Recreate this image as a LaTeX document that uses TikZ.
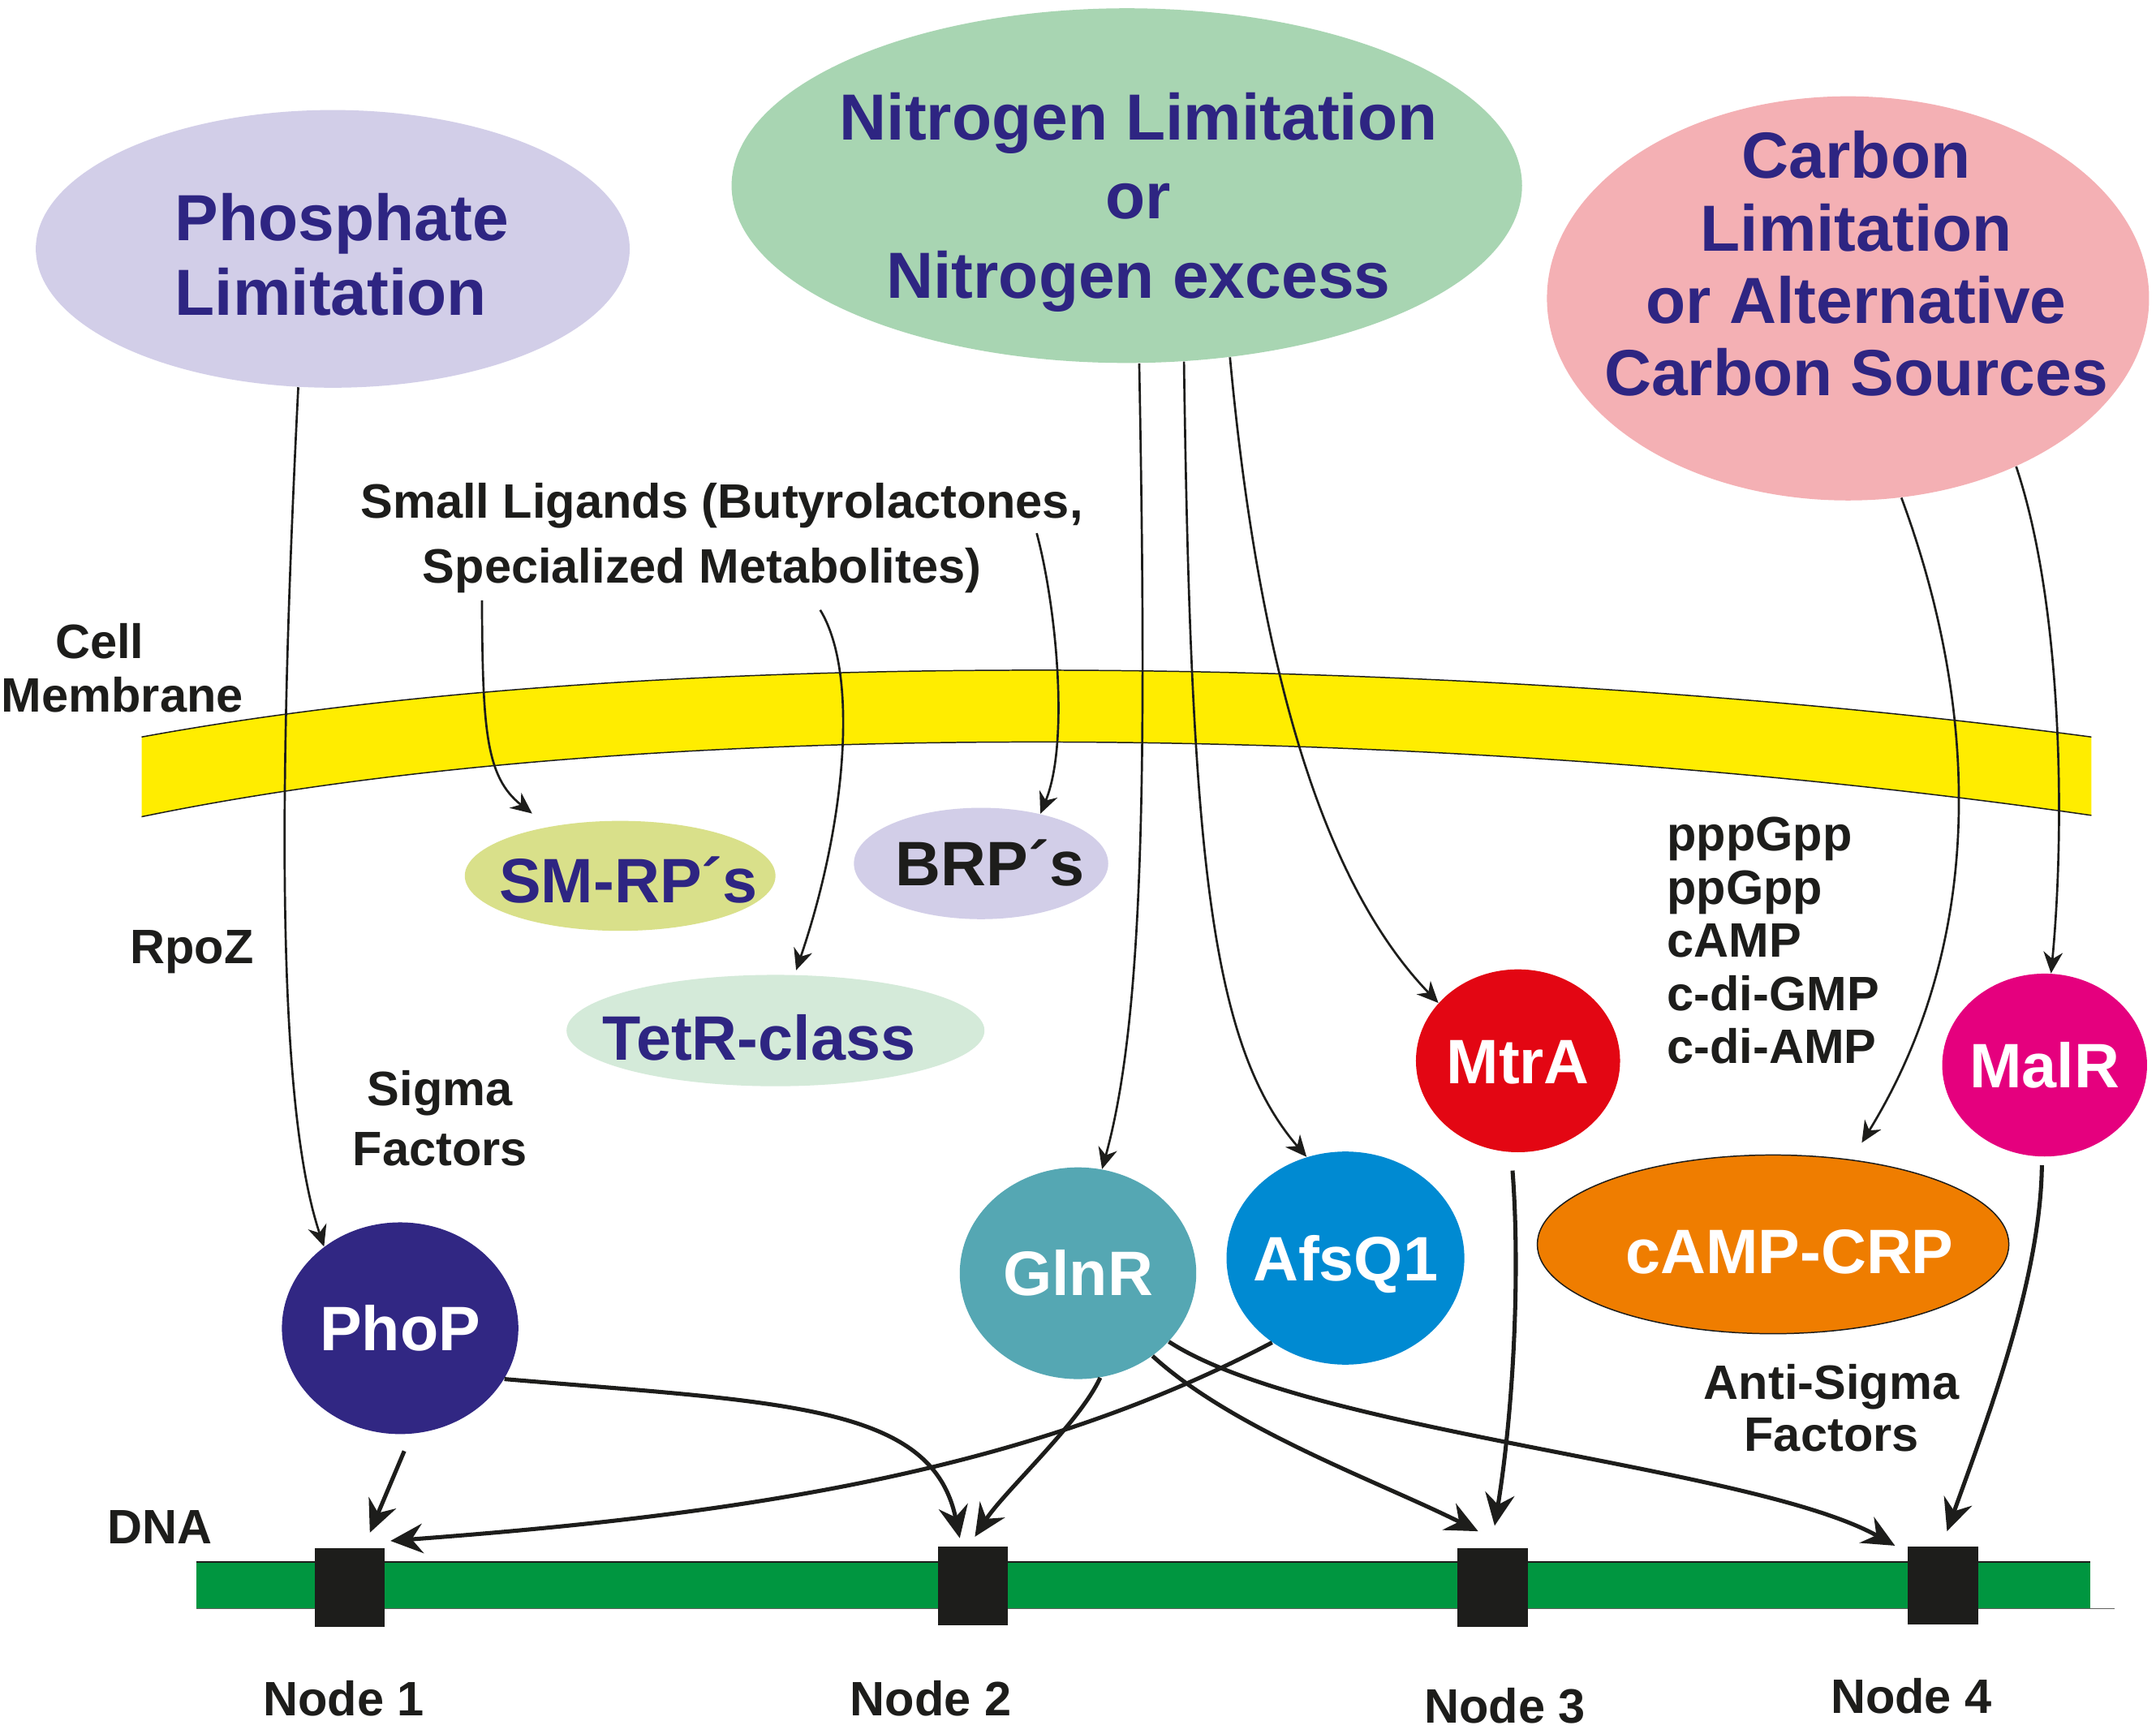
\documentclass[tikz,border=0pt]{standalone}
\usepackage{fontspec}
\setmainfont{Liberation Sans}
\usetikzlibrary{shapes.geometric, arrows.meta, calc}

\definecolor{condblue}{RGB}{46,37,130}
\definecolor{phoscol}{RGB}{210,206,232}
\definecolor{nitrocol}{RGB}{168,213,178}
\definecolor{carbcol}{RGB}{244,176,180}
\definecolor{smrpcol}{RGB}{217,224,138}
\definecolor{tetrcol}{RGB}{212,234,217}
\definecolor{phopcol}{RGB}{49,39,131}
\definecolor{glnrcol}{RGB}{85,167,179}
\definecolor{afsqcol}{RGB}{0,138,210}
\definecolor{mtracol}{RGB}{227,6,19}
\definecolor{malrcol}{RGB}{229,0,126}
\definecolor{campcol}{RGB}{239,125,0}
\definecolor{membcol}{RGB}{255,237,0}
\definecolor{dnacol}{RGB}{0,150,64}
\definecolor{txtblack}{RGB}{29,29,27}

\tikzset{
    cond/.style={ellipse, inner sep=0pt},
    condtxt/.style={text=condblue, inner sep=0pt},
    prot/.style={ellipse, inner sep=0pt},
    prottxt/.style={text=white, inner sep=0pt, font=\fontsize{26}{30}\selectfont\bfseries,
        text height=18.6pt, text depth=0pt},
    lab/.style={text=txtblack, inner sep=0pt, font=\fontsize{20}{22}\selectfont\bfseries},
    site/.style={rectangle, fill=txtblack, minimum width=1.02cm, minimum height=1.14cm, inner sep=0pt},
    sig/.style={-{Stealth[length=0.31cm, width=0.28cm, inset=0.1cm]}, line width=0.9pt, txtblack},
    reg/.style={-{Stealth[length=0.47cm, width=0.43cm, inset=0.16cm]}, line width=1.7pt, txtblack},
}

\begin{document}
\begin{tikzpicture}[x=0.02cm, y=-0.02cm]
    \path[fill=white] (0,0) rectangle (1568,1261);

    % cell membrane and DNA
    \fill[membcol] (103,536) .. controls (500,463) and (1100,480) .. (1521,536) -- (1521,593)
        .. controls (1100,532) and (500,512) .. (103,594) -- cycle;
    \draw[line width=0.5pt, txtblack] (103,536) .. controls (500,463) and (1100,480) .. (1521,536);
    \draw[line width=0.5pt, txtblack] (103,594) .. controls (500,512) and (1100,532) .. (1521,593);
    \fill[dnacol] (143,1136) rectangle (1520,1170);
    \draw[line width=0.5pt, txtblack] (143,1136) -- (1520,1136);
    \draw[line width=0.5pt, txtblack!70] (143,1170) -- (1538,1170);

    % conditions
    \node[cond, fill=phoscol, minimum width=8.64cm, minimum height=4.04cm] (phos) at (242,181) {};
    \node[condtxt, font=\fontsize{27}{30.6}\selectfont\bfseries, align=left, anchor=north west] (phostxt) at (127,140.5) {Phosphate\\Limitation};
    \node[cond, fill=nitrocol, minimum width=11.5cm, minimum height=5.16cm] (nitro) at (819.5,135) {};
    \node[condtxt, font=\fontsize{27}{32.7}\selectfont\bfseries, align=center, anchor=north] (nitrotxt) at (828,67) {Nitrogen Limitation\\or\\Nitrogen excess};
    \node[cond, fill=carbcol, minimum width=8.76cm, minimum height=5.88cm] (carb) at (1344,217) {};
    \node[condtxt, font=\fontsize{27}{30}\selectfont\bfseries, align=center, anchor=north] (carbtxt) at (1350,95) {Carbon\\Limitation\\or Alternative\\Carbon Sources};

    % regulators
    \node[prot, fill=smrpcol, minimum width=4.52cm, minimum height=1.6cm,
        label={[prottxt, text=condblue, xshift=0.12cm, yshift=-0.06cm]center:SM-RP´s}] (smrp) at (451,637) {};
    \node[prot, fill=phoscol, minimum width=3.7cm, minimum height=1.62cm,
        label={[prottxt, text=txtblack, xshift=0.13cm]center:BRP´s}] (brp) at (713.5,628) {};
    \node[prot, fill=tetrcol, minimum width=6.08cm, minimum height=1.62cm,
        label={[prottxt, text=condblue, xshift=-0.24cm, yshift=-0.1cm]center:TetR-class}] (tetr) at (564,749.5) {};
    \node[prot, fill=phopcol, minimum width=3.44cm, minimum height=3.08cm,
        label={[prottxt]center:PhoP}] (phop) at (291,966) {};
    \node[prot, fill=glnrcol, minimum width=3.44cm, minimum height=3.08cm,
        label={[prottxt]center:GlnR}] (glnr) at (784,926) {};
    \node[prot, fill=afsqcol, minimum width=3.46cm, minimum height=3.1cm,
        label={[prottxt]center:AfsQ1}] (afsq) at (978.5,915) {};
    \node[prot, fill=mtracol, minimum width=2.97cm, minimum height=2.66cm,
        label={[prottxt]center:MtrA}] (mtra) at (1104,771.5) {};
    \node[prot, fill=malrcol, minimum width=2.98cm, minimum height=2.66cm,
        label={[prottxt]center:MalR}] (malr) at (1487,774.6) {};
    \node[prot, fill=campcol, draw=txtblack, line width=0.5pt, minimum width=6.86cm, minimum height=2.6cm,
        label={[prottxt, xshift=0.24cm, yshift=-0.1cm]center:cAMP-CRP}] (camp) at (1289.5,905) {};

    % DNA nodes
    \node[site] (n1) at (254.5,1154.5) {};
    \node[site] (n2) at (707.5,1153.5) {};
    \node[site] (n3) at (1085.5,1154.5) {};
    \node[site] (n4) at (1413,1153) {};

    % labels
    \node[lab, anchor=base] (lig) at (525,377) {Small Ligands (Butyrolactones,};
    \node[lab, anchor=base] (lig2) at (510.5,424) {Specialized Metabolites)};
    \node[lab, font=\fontsize{20}{22.1}\selectfont\bfseries, align=center, anchor=north] (cellm) at (89,453) {Cell\hspace*{0.66cm}\\Membrane};
    \node[lab, anchor=base] (rpoz) at (139.5,700.6) {RpoZ};
    \node[lab, font=\fontsize{20}{24.9}\selectfont\bfseries, align=center, anchor=north] (sigma) at (320,778) {Sigma\\Factors};
    \node[lab, font=\fontsize{20}{22}\selectfont\bfseries, align=left, anchor=north west] (smallmol) at (1212,594) {pppGpp\\ppGpp\\cAMP\\c-di-GMP\\c-di-AMP};
    \node[lab, font=\fontsize{20}{21.5}\selectfont\bfseries, align=center, anchor=north] (antisig) at (1332,992) {Anti-Sigma\\Factors};
    \node[lab, anchor=base] (dnatxt) at (116,1122.5) {DNA};
    \node[lab, anchor=base] (n1txt) at (250,1247.6) {Node 1};
    \node[lab, anchor=base] (n2txt) at (677,1247.6) {Node 2};
    \node[lab, anchor=base] (n3txt) at (1094.5,1253) {Node 3};
    \node[lab, anchor=base] (n4txt) at (1390,1246) {Node 4};

    % signals
    \draw[sig] (phos.-104.8) .. controls (203,560) and (200,800) .. (phop.133);
    \draw[sig] (nitro.-86.7) .. controls (834,560) and (832,740) .. (glnr.77);
    \draw[sig] (nitro.-72.7) .. controls (866,620) and (880,760) .. (afsq.111);
    \draw[sig] (nitro.-59.6) .. controls (915,480) and (960,640) .. (mtra.144);
    \draw[sig] (carb.-75) .. controls (1442,522) and (1442,688) .. ($(camp.north)+(64.5,-8.5)$);
    \draw[sig] (carb.-45) .. controls (1500,440) and (1502,600) .. (malr.86);
    \draw[sig] ($(lig2.south)+(-160,5)$) .. controls (351,530) and (353,565) .. ($(smrp.north)+(-64,-5)$);
    \draw[sig] ($(lig2.south)+(86,12)$) .. controls (625,490) and (615,600) .. ($(tetr.north)+(15,-3)$);
    \draw[sig] ($(lig.south east)+(-34,3)$) .. controls (768,440) and (778,540) .. (brp.40);

    % binding to the DNA
    \draw[reg] ($(phop.south)+(3,12)$) -- ($(n1.north)+(14.5,-11)$);
    \draw[reg] (phop.-26) .. controls (569,1020) and (678,1021) .. ($(n2.north)+(-9.5,-6)$);
    \draw[reg] (glnr.-78) .. controls (785,1035) and (730,1085) .. ($(n2.north)+(1.5,-7)$);
    \draw[reg] (afsq.-131) .. controls (744,1072) and (534,1102) .. ($(n1.north)+(29.5,-5)$);
    \draw[reg] (glnr.-48) .. controls (897,1040) and (1004,1078) .. ($(n3.north)+(-10.5,-12)$);
    \draw[reg] (glnr.-37) .. controls (952,1042) and (1274,1066) .. ($(n4.north west)+(-9,0)$);
    \draw[reg] ($(mtra.south)+(-4,13)$) .. controls (1106,930) and (1100,1030) .. ($(n3.north)+(1.5,-16)$);
    \draw[reg] ($(malr.south)+(-2,6)$) .. controls (1484,930) and (1446,1030) .. ($(n4.north)+(3,-10.5)$);
\end{tikzpicture}
\end{document}
